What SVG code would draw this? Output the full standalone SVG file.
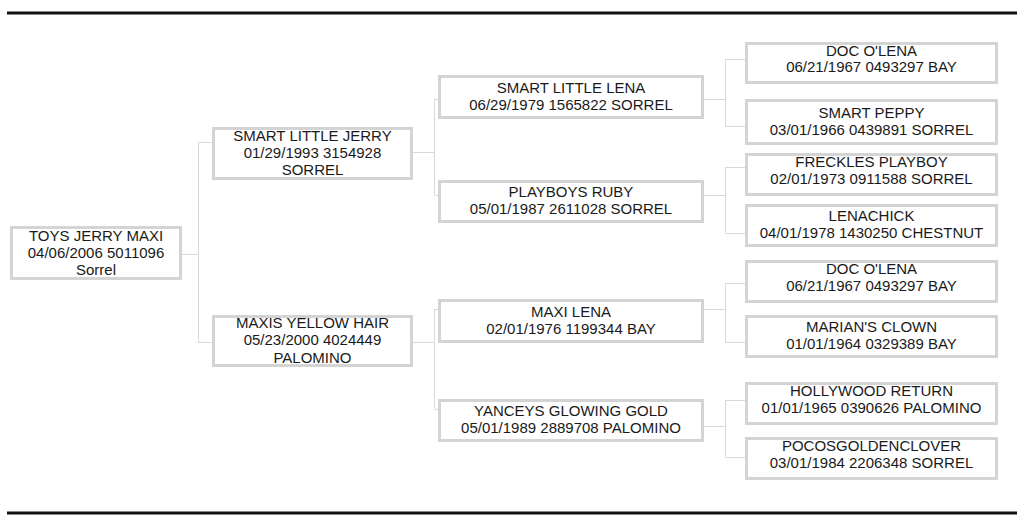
<svg xmlns="http://www.w3.org/2000/svg" width="1024" height="524" viewBox="0 0 1024 524">
<style>
.box{fill:#fff;stroke:#d4d4d4;stroke-width:3}
.t{font-family:"Liberation Sans",Arial,sans-serif;font-size:15px;fill:#1a1a1a;text-anchor:middle}
.c{fill:none;stroke:#d9d9d9;stroke-width:1}
.rule{stroke:#111;stroke-width:3}
</style>
<rect width="1024" height="524" fill="#fff"/>
<line class="rule" x1="7" y1="13" x2="1017" y2="13"/>
<line class="rule" x1="7" y1="513" x2="1017" y2="513"/>
<g id="connectors">
<path class="c" d="M182 254.5H198.5M198.5 142V343M198.5 142.5H212M198.5 342.5H212"/>
<path class="c" d="M413 152.5H434.5M434.5 99V195M434.5 99.5H438M434.5 195.5H438"/>
<path class="c" d="M413 342.5H434.5M434.5 309V409M434.5 309.5H438M434.5 409.5H438"/>
<path class="c" d="M704 99.5H725.5M725.5 59V126M725.5 59.5H745M725.5 126.5H745"/>
<path class="c" d="M704 195.5H725.5M725.5 167V233M725.5 167.5H745M725.5 233.5H745"/>
<path class="c" d="M704 309.5H725.5M725.5 283V342M725.5 283.5H745M725.5 342.5H745"/>
<path class="c" d="M704 426.5H725.5M725.5 400V457M725.5 400.5H745M725.5 457.5H745"/>
</g>
<g id="root">
<rect class="box" x="11.5" y="227.5" width="169" height="51"/>
<text class="t" x="96" y="241">TOYS JERRY MAXI</text>
<text class="t" x="96" y="258">04/06/2006 5011096</text>
<text class="t" x="96" y="275">Sorrel</text>
</g>
<g id="smart-little-jerry">
<rect class="box" x="213.5" y="128.5" width="198" height="50"/>
<text class="t" x="312.5" y="141">SMART LITTLE JERRY</text>
<text class="t" x="312.5" y="158">01/29/1993 3154928</text>
<text class="t" x="312.5" y="175">SORREL</text>
</g>
<g id="maxis-yellow-hair">
<rect class="box" x="213.5" y="316.5" width="198" height="49"/>
<text class="t" x="312.5" y="328">MAXIS YELLOW HAIR</text>
<text class="t" x="312.5" y="345">05/23/2000 4024449</text>
<text class="t" x="312.5" y="363">PALOMINO</text>
</g>
<g id="smart-little-lena">
<rect class="box" x="439.5" y="76.5" width="263" height="41"/>
<text class="t" x="571" y="93">SMART LITTLE LENA</text>
<text class="t" x="571" y="110">06/29/1979 1565822 SORREL</text>
</g>
<g id="playboys-ruby">
<rect class="box" x="439.5" y="181.5" width="263" height="40"/>
<text class="t" x="571" y="197">PLAYBOYS RUBY</text>
<text class="t" x="571" y="214">05/01/1987 2611028 SORREL</text>
</g>
<g id="maxi-lena">
<rect class="box" x="439.5" y="300.5" width="263" height="41"/>
<text class="t" x="571" y="317">MAXI LENA</text>
<text class="t" x="571" y="334">02/01/1976 1199344 BAY</text>
</g>
<g id="yanceys-glowing-gold">
<rect class="box" x="439.5" y="400.5" width="263" height="40"/>
<text class="t" x="571" y="416">YANCEYS GLOWING GOLD</text>
<text class="t" x="571" y="433">05/01/1989 2889708 PALOMINO</text>
</g>
<g id="doc-olena-1">
<rect class="box" x="746.5" y="43.5" width="250" height="39"/>
<text class="t" x="871.5" y="56">DOC O'LENA</text>
<text class="t" x="871.5" y="72">06/21/1967 0493297 BAY</text>
</g>
<g id="smart-peppy">
<rect class="box" x="746.5" y="100.5" width="250" height="43"/>
<text class="t" x="871.5" y="118">SMART PEPPY</text>
<text class="t" x="871.5" y="135">03/01/1966 0439891 SORREL</text>
</g>
<g id="freckles-playboy">
<rect class="box" x="746.5" y="154.5" width="250" height="40"/>
<text class="t" x="871.5" y="167">FRECKLES PLAYBOY</text>
<text class="t" x="871.5" y="184">02/01/1973 0911588 SORREL</text>
</g>
<g id="lenachick">
<rect class="box" x="746.5" y="205.5" width="250" height="40"/>
<text class="t" x="871.5" y="221">LENACHICK</text>
<text class="t" x="871.5" y="238">04/01/1978 1430250 CHESTNUT</text>
</g>
<g id="doc-olena-2">
<rect class="box" x="746.5" y="261.5" width="250" height="40"/>
<text class="t" x="871.5" y="274">DOC O'LENA</text>
<text class="t" x="871.5" y="291">06/21/1967 0493297 BAY</text>
</g>
<g id="marians-clown">
<rect class="box" x="746.5" y="316.5" width="250" height="40"/>
<text class="t" x="871.5" y="332">MARIAN'S CLOWN</text>
<text class="t" x="871.5" y="349">01/01/1964 0329389 BAY</text>
</g>
<g id="hollywood-return">
<rect class="box" x="746.5" y="383.5" width="250" height="40"/>
<text class="t" x="871.5" y="396">HOLLYWOOD RETURN</text>
<text class="t" x="871.5" y="413">01/01/1965 0390626 PALOMINO</text>
</g>
<g id="pocosgoldenclover">
<rect class="box" x="746.5" y="438.5" width="250" height="40"/>
<text class="t" x="871.5" y="451">POCOSGOLDENCLOVER</text>
<text class="t" x="871.5" y="468">03/01/1984 2206348 SORREL</text>
</g>
</svg>
